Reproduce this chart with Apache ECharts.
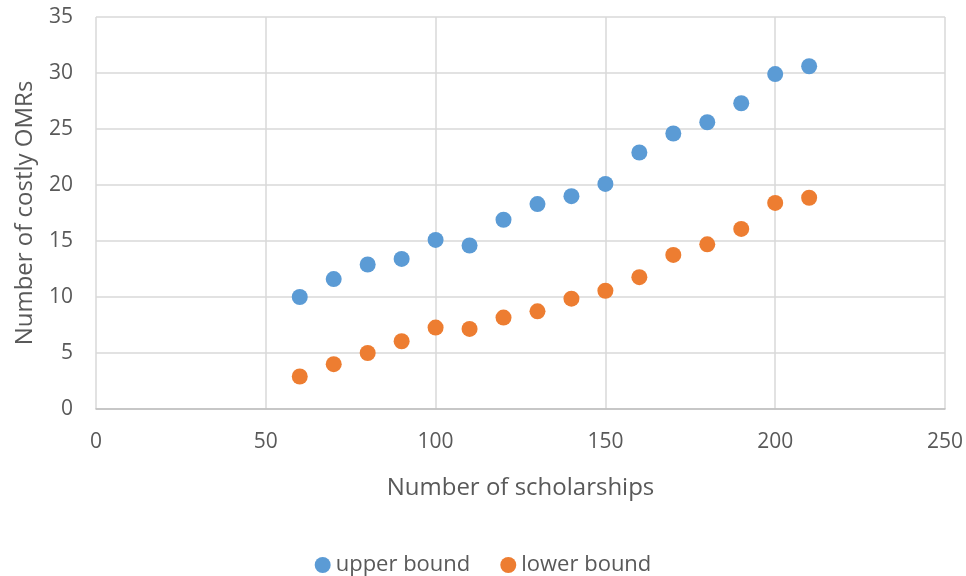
<!DOCTYPE html>
<html><head><meta charset="utf-8">
<script src="https://cdn.jsdelivr.net/npm/echarts@6/dist/echarts.min.js"></script>
<style>html,body{margin:0;padding:0;background:#fff}#c{width:966px;height:576px}</style>
</head><body><div id="c"></div>
<script>
const scholarships = [60,70,80,90,100,110,120,130,140,150,160,170,180,190,200,210];
const upperBound = [10.0,11.6,12.9,13.4,15.1,14.6,16.9,18.3,19.0,20.1,22.9,24.6,25.6,27.3,29.9,30.6];
const lowerBound = [2.9,4.0,5.0,6.05,7.27,7.15,8.16,8.72,9.85,10.56,11.77,13.76,14.7,16.08,18.4,18.86];
const seriesNames = ['upper bound','lower bound'];
const font = 'Open Sans';
const chart = echarts.init(document.getElementById('c'));
chart.setOption({
  animation:false,
  textStyle:{fontFamily:font},
  grid:{left:96,right:21,top:17,bottom:167},
  legend:{top:549,left:'center',itemWidth:16,itemHeight:16,itemGap:30,icon:'circle',
    textStyle:{fontFamily:font,fontSize:22,color:'#595959'},data:seriesNames},
  xAxis:{type:'value',min:0,max:250,interval:50,
    name:'Number of scholarships',nameLocation:'middle',nameGap:79,
    nameTextStyle:{fontFamily:font,fontSize:24,color:'#595959',verticalAlign:'middle'},
    axisLine:{show:true,lineStyle:{color:'#bfbfbf',width:1.5}},axisTick:{show:false},
    axisLabel:{fontFamily:font,fontSize:21,color:'#595959',margin:23},
    splitLine:{show:true,lineStyle:{color:'#d9d9d9',width:1.5}}},
  yAxis:{type:'value',min:0,max:35,interval:5,
    name:'Number of costly OMRs',nameLocation:'middle',nameGap:71,
    nameTextStyle:{fontFamily:font,fontSize:24,color:'#595959',verticalAlign:'middle'},
    axisLine:{show:false},axisTick:{show:false},
    axisLabel:{fontFamily:font,fontSize:21,color:'#595959',margin:23},
    splitLine:{show:true,lineStyle:{color:'#d9d9d9',width:1.5}}},
  series:[
    {name:seriesNames[0],type:'scatter',symbolSize:16,itemStyle:{color:'#5b9bd5',opacity:1},
      data:scholarships.map((x,i)=>[x,upperBound[i]])},
    {name:seriesNames[1],type:'scatter',symbolSize:16,itemStyle:{color:'#ed7d31',opacity:1},
      data:scholarships.map((x,i)=>[x,lowerBound[i]])}
  ]
});
</script></body></html>
